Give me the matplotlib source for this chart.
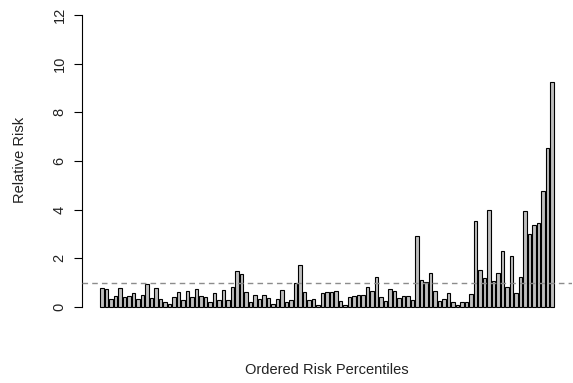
import matplotlib
matplotlib.use("Agg")
import matplotlib.pyplot as plt
import numpy as np

plt.rcParams['font.family'] = ['Liberation Sans', 'DejaVu Sans']

relative_risk = [
    0.79, 0.73, 0.32, 0.47, 0.77, 0.40, 0.45, 0.56, 0.32, 0.49,
    0.95, 0.36, 0.77, 0.32, 0.20, 0.12, 0.40, 0.62, 0.27, 0.67,
    0.40, 0.73, 0.44, 0.40, 0.20, 0.56, 0.28, 0.70, 0.28, 0.81,
    1.47, 1.34, 0.63, 0.20, 0.49, 0.32, 0.49, 0.36, 0.12, 0.32,
    0.70, 0.20, 0.27, 1.00, 1.73, 0.60, 0.28, 0.32, 0.08, 0.56,
    0.60, 0.63, 0.67, 0.25, 0.07, 0.40, 0.44, 0.51, 0.51, 0.81,
    0.67, 1.23, 0.40, 0.25, 0.74, 0.67, 0.37, 0.44, 0.44, 0.29,
    2.90, 1.12, 1.01, 1.38, 0.67, 0.25, 0.33, 0.59, 0.19, 0.08,
    0.19, 0.19, 0.55, 3.55, 1.51, 1.18, 3.97, 1.08, 1.38, 2.29,
    0.84, 2.11, 0.59, 1.22, 3.93, 3.01, 3.36, 3.44, 4.75, 6.55,
    9.25,
]
y_ticks = [0, 2, 4, 6, 8, 10, 12]
reference_level = 1
x_label = "Ordered Risk Percentiles"
y_label = "Relative Risk"

W, H = 573, 383
fig = plt.figure(figsize=(W / 100, H / 100), dpi=100)
left_px, right_px = 82, 572
top_px, bottom_px = 3.3, 318.7
ax = fig.add_axes([left_px / W, 1 - bottom_px / H,
                   (right_px - left_px) / W, (bottom_px - top_px) / H])

n = len(relative_risk)
space, width = 0.2, 1.0
lefts = space + np.arange(n) * (width + space)
ax.bar(lefts, relative_risk, width=width, align='edge',
       color='#BEBEBE', edgecolor='black', linewidth=0.8, zorder=2)

xmin, xmax = lefts[0], lefts[-1] + width
pad = 0.04 * (xmax - xmin)
ax.set_xlim(xmin - pad, xmax + pad)
ax.set_ylim(-0.48, 12.48)

ax.axhline(reference_level, color='#8c8c8c', linestyle=(0, (4, 3)),
           linewidth=1.0, zorder=3)

for s in ['top', 'right', 'bottom']:
    ax.spines[s].set_visible(False)
ax.spines['left'].set_bounds(0, 12)
ax.spines['left'].set_linewidth(0.8)
ax.set_xticks([])
ax.set_yticks(y_ticks)
ax.set_yticklabels([str(t) for t in y_ticks], rotation=90, va='center',
                   fontsize=10.5, color='#222222')
ax.tick_params(axis='y', length=6, width=0.8, pad=5)

fig.text(20 / W, 1 - 160 / H, y_label, rotation=90, ha='center', va='center',
         fontsize=10.5, color='#222222')
fig.text(327 / W, 1 - 370 / H, x_label, ha='center', va='center',
         fontsize=10.5, color='#222222')

fig.savefig("out.png", dpi=100)
